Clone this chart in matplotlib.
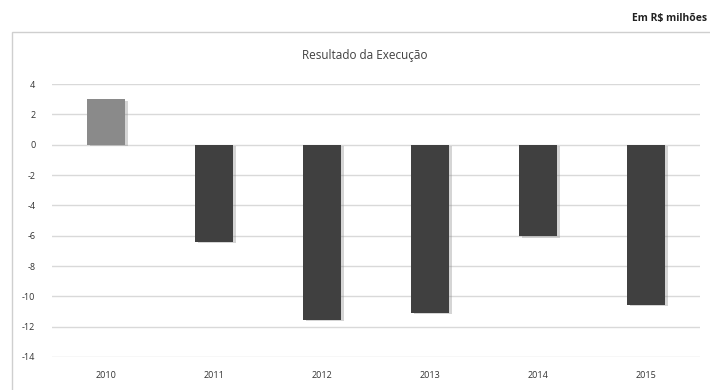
import matplotlib.pyplot as plt
import matplotlib.patheffects as pe
from matplotlib.patches import Rectangle

plt.rcParams['font.family'] = ['Open Sans', 'DejaVu Sans']

# dados (R$ milhões)
anos = ['2010', '2011', '2012', '2013', '2014', '2015']
resultado = [3.0, -6.4, -11.55, -11.1, -6.05, -10.55]
cores = ['#8a8a8a', '#404040', '#404040', '#404040', '#404040', '#404040']
yticks = [4, 2, 0, -2, -4, -6, -8, -10, -12, -14]

fig = plt.figure(figsize=(7.1, 3.9), dpi=100)

# moldura do gráfico
fig.patches.append(Rectangle((12 / 710, -0.05), 1.0, 1 - 32 / 390 + 0.05,
                             transform=fig.transFigure, fill=False,
                             edgecolor='#cfcfcf', linewidth=1.0))

ax = fig.add_axes([52 / 710, 1 - 357 / 390, 648 / 710, (357 - 84) / 390])

x = range(len(anos))
barras = ax.bar(x, resultado, width=0.35, color=cores, zorder=3)
for b in barras:
    b.set_path_effects([pe.SimplePatchShadow(offset=(2, -1), shadow_rgbFace='#888888', alpha=0.35),
                        pe.Normal()])

ax.set_xlim(-0.5, len(anos) - 0.5)
ax.set_ylim(-14, 4)
ax.set_yticks(yticks)
ax.set_yticklabels([str(v) for v in yticks])
ax.set_xticks(list(x))
ax.set_xticklabels(anos)
ax.grid(axis='y', color='#d9d9d9', linewidth=1.0, zorder=0)
for s in ax.spines.values():
    s.set_visible(False)
ax.tick_params(axis='both', length=0, labelsize=6.5, labelcolor='#333333')
ax.tick_params(axis='y', pad=12)
ax.tick_params(axis='x', pad=10)

fig.text(365 / 710, 1 - 56 / 390, 'Resultado da Execução', ha='center', va='center',
         fontsize=8.5, color='#404040')
fig.text(707 / 710, 1 - 18 / 390, 'Em R$ milhões', ha='right', va='center',
         fontsize=7.5, color='#222222', fontweight='bold')

fig.savefig('out.png', dpi=100)
